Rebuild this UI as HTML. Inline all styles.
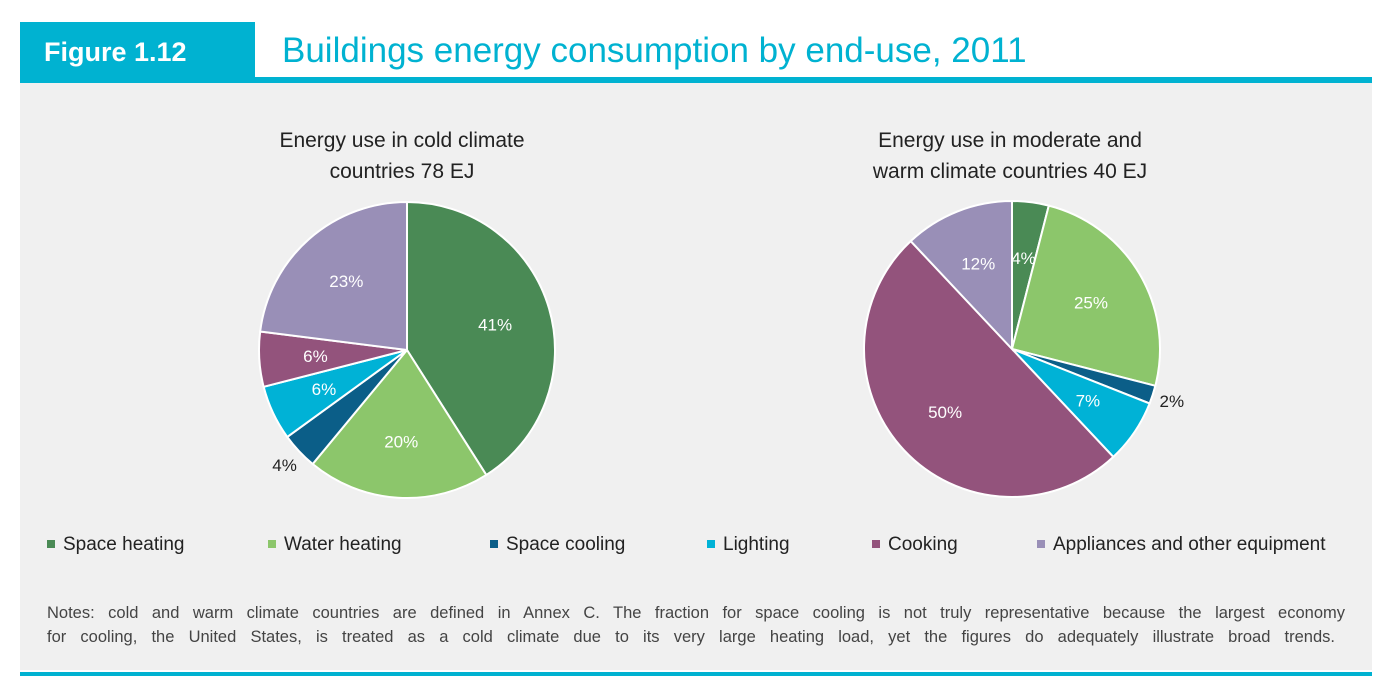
<!DOCTYPE html>
<html><head><meta charset="utf-8"><style>
body{margin:0;width:1391px;height:689px;background:#fff;font-family:"Liberation Sans",sans-serif;position:relative;overflow:hidden}
.abs{position:absolute}
.nl{text-align:justify;text-align-last:justify;white-space:nowrap}
</style></head><body>
<div class="abs" style="left:20px;top:22px;width:235px;height:61px;background:#00b2d1"></div>
<div class="abs" style="left:44px;top:37px;color:#fff;font-size:27px;font-weight:bold">Figure 1.12</div>
<div class="abs" style="left:282px;top:31px;color:#00b2d1;font-size:35px">Buildings energy consumption by end-use, 2011</div>
<div class="abs" style="left:255px;top:77px;width:1117px;height:6px;background:#00b2d1"></div>
<div class="abs" style="left:20px;top:83px;width:1352px;height:587px;background:#f0f0f0"></div>
<div class="abs" style="left:20px;top:672px;width:1352px;height:4px;background:#00b2d1"></div>
<svg class="abs" style="left:0;top:0" width="1391" height="689" id="svg">
<text x="402" y="147" text-anchor="middle" font-size="21" fill="#222">Energy use in cold climate</text>
<text x="402" y="178" text-anchor="middle" font-size="21" fill="#222">countries 78 EJ</text>
<text x="1010" y="147" text-anchor="middle" font-size="21" fill="#222">Energy use in moderate and</text>
<text x="1010" y="178" text-anchor="middle" font-size="21" fill="#222">warm climate countries 40 EJ</text>
</svg>
<div class="abs" style="top:534px;left:0;font-size:19px;color:#222" id="legend"></div>
<div class="abs" style="left:47px;top:601px;font-size:16.5px;color:#444;line-height:24px">
<div class="nl" style="width:1298px">Notes: cold and warm climate countries are defined in Annex C. The fraction for space cooling is not truly representative because the largest economy</div>
<div class="nl" style="width:1288px">for cooling, the United States, is treated as a cold climate due to its very large heating load, yet the figures do adequately illustrate broad trends.</div>
</div>
<script>
const categories=["Space heating","Water heating","Space cooling","Lighting","Cooking","Appliances and other equipment"];
const coldValues=[41,20,4,6,6,23];
const warmValues=[4,25,2,7,50,12];
const colors=["#4a8a55","#8cc66b","#0b5e88","#00b2d6","#93537c","#998fb7"];
const legendX=[47,268,490,707,872,1037];
const NS="http://www.w3.org/2000/svg";
const svg=document.getElementById('svg');
function pie(vals,cx,cy,r,prefix,outside){
  const tot=vals.reduce((a,b)=>a+b,0);let a0=0;
  vals.forEach((v,i)=>{
    const a1=a0+v/tot*2*Math.PI;
    const p=document.createElementNS(NS,'path');
    const x0=cx+r*Math.sin(a0),y0=cy-r*Math.cos(a0),x1=cx+r*Math.sin(a1),y1=cy-r*Math.cos(a1);
    p.setAttribute('d',`M${cx},${cy}L${x0},${y0}A${r},${r} 0 ${a1-a0>Math.PI?1:0} 1 ${x1},${y1}Z`);
    p.setAttribute('fill',colors[i]);p.setAttribute('stroke','#fff');p.setAttribute('stroke-width','2');
    
    
    svg.appendChild(p);
    const am=(a0+a1)/2;const out=outside.includes(i);const lr=out?r+20:r*0.62;
    const t=document.createElementNS(NS,'text');
    t.setAttribute('x',cx+lr*Math.sin(am));t.setAttribute('y',cy-lr*Math.cos(am)+6);
    t.setAttribute('text-anchor','middle');t.setAttribute('font-size','17');
    t.setAttribute('fill',out?'#222':'#fff');t.textContent=v+'%';
    
    
    svg.appendChild(t);a0=a1;
  });
}
pie(coldValues,407,350,148,'cold',[2]);
pie(warmValues,1012,349,148,'warm',[2]);
const lg=document.getElementById('legend');
categories.forEach((c,i)=>{
  const d=document.createElement('div');
  d.style.cssText=`position:absolute;left:${legendX[i]}px;top:0;white-space:nowrap`;
  d.innerHTML=`<span style="display:inline-block;width:8px;height:8px;background:${colors[i]};margin-right:8px;vertical-align:2px"></span>${c}`;
  
  
  lg.appendChild(d);
});
</script>
</body></html>
